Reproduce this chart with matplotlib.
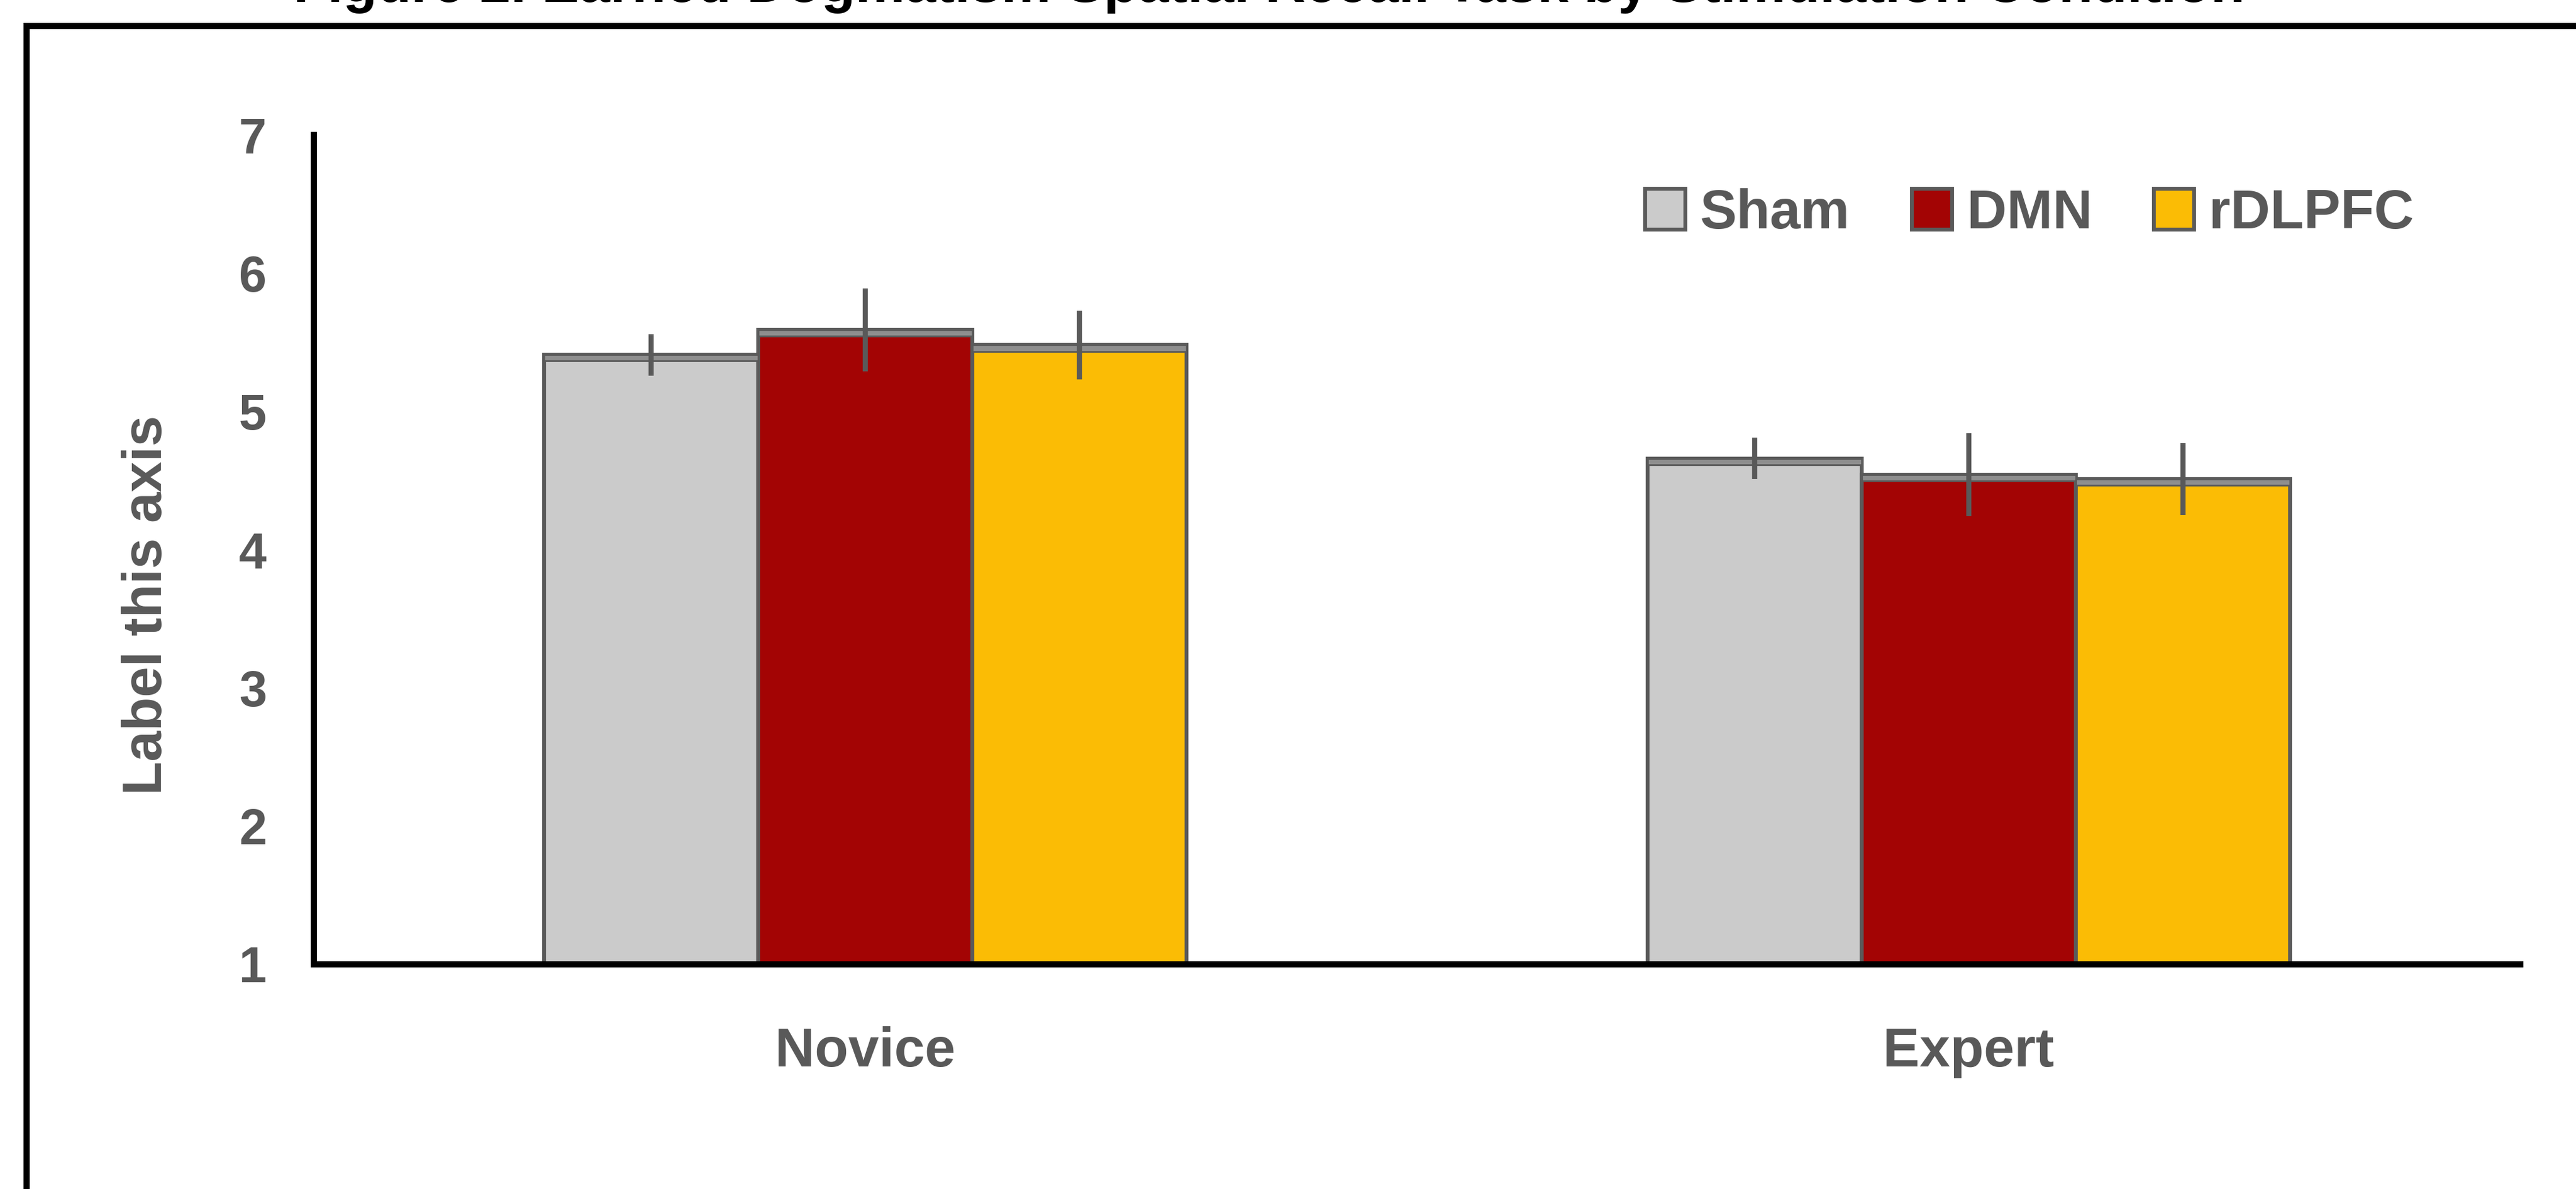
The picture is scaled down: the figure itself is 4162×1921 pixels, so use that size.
import numpy as np
import matplotlib.pyplot as plt
from matplotlib import font_manager
from matplotlib.patches import Rectangle

# data
groups = ['Novice', 'Expert']
conditions = ['Sham', 'DMN', 'rDLPFC']
sham = [5.41, 4.66]
dmn = [5.59, 4.54]
rdlpfc = [5.48, 4.51]
sham_err = [0.15, 0.15]
dmn_err = [0.30, 0.30]
rdlpfc_err = [0.25, 0.26]
yticks = [1, 2, 3, 4, 5, 6, 7]
title = 'Figure 2. Earned Dogmatism Spatial Recall Task by Stimulation Condition'
ylabel = 'Label this axis'

colors = ['#CBCBCB', '#A30404', '#FBBC05']
grey_txt = '#595959'
edge = '#5A5A5A'

# narrow font if there is one, otherwise regular Liberation Sans a bit smaller
try:
    font_manager.findfont('Liberation Sans Narrow', fallback_to_default=False)
    narrow, big = 'Liberation Sans Narrow', 75
except ValueError:
    narrow, big = 'Liberation Sans', 64
plt.rcParams['font.family'] = ['Liberation Sans', 'DejaVu Sans']

fig = plt.figure(figsize=(41.62, 19.21), dpi=100)
ax = fig.add_axes([0.1218, 0.1890, 0.8566, 0.6975])

x = np.arange(len(groups))
w = 0.194
series = [sham, dmn, rdlpfc]
errs = [sham_err, dmn_err, rdlpfc_err]
bars = []
for i, (vals, err) in enumerate(zip(series, errs)):
    pos = x + (i - 1) * w
    b = ax.bar(pos, np.array(vals) - 1, bottom=1, width=w, color=colors[i],
               edgecolor=edge, linewidth=4.5, label=conditions[i], zorder=2)
    bars.append(b)
    # bevel strip on top of each bar
    ax.bar(pos, 0.045, bottom=np.array(vals) - 0.045, width=w, color='#8E8E8E',
           edgecolor=edge, linewidth=2, zorder=3)
    ax.errorbar(pos, vals, yerr=err, fmt='none', ecolor=grey_txt, elinewidth=6,
                capsize=0, zorder=4)

ax.set_ylim(1, 7)
ax.set_xlim(-0.5, 1.5)
ax.set_yticks(yticks)
ax.set_xticks(x)
ax.set_xticklabels(groups, family=narrow, fontsize=big, fontweight='bold', color=grey_txt)
ax.set_yticklabels([str(t) for t in yticks], fontsize=58, fontweight='bold', color=grey_txt)
ax.tick_params(axis='y', length=0, pad=55)
ax.tick_params(axis='x', length=0, pad=72)
for s in ['top', 'right']:
    ax.spines[s].set_visible(False)
for s in ['left', 'bottom']:
    ax.spines[s].set_linewidth(7.2)
    ax.spines[s].set_color('black')

ax.set_ylabel(ylabel, family=narrow, fontsize=big, fontweight='bold', color=grey_txt,
              va='center')
ax.yaxis.set_label_coords(-0.0755, 0.433)

fs_px = big * 100 / 72
leg = fig.legend(handles=bars, labels=conditions, ncol=3, frameon=False,
                 loc='center left', bbox_to_anchor=(0.6386, 0.8200),
                 borderpad=0, borderaxespad=0,
                 handlelength=65 / fs_px, handleheight=68 / fs_px,
                 handletextpad=24 / fs_px, columnspacing=100 / fs_px,
                 prop={'family': narrow, 'size': big, 'weight': 'bold'})
for t in leg.get_texts():
    t.set_color(grey_txt)

# title sits mostly above the picture, only its lower part shows
fig.text(0.4926, 1 - 3 / 1921, title, ha='center', va='baseline', family=narrow,
         fontsize=big + 1, fontweight='bold', color='black')

# outer frame, running off the right and bottom edges
fig.patches.append(Rectangle((43 / 4162, -0.1), 1.2, 1 - 42 / 1921 + 0.1,
                             transform=fig.transFigure, fill=False,
                             edgecolor='black', linewidth=7.2))

fig.savefig('out.png', dpi=100)
